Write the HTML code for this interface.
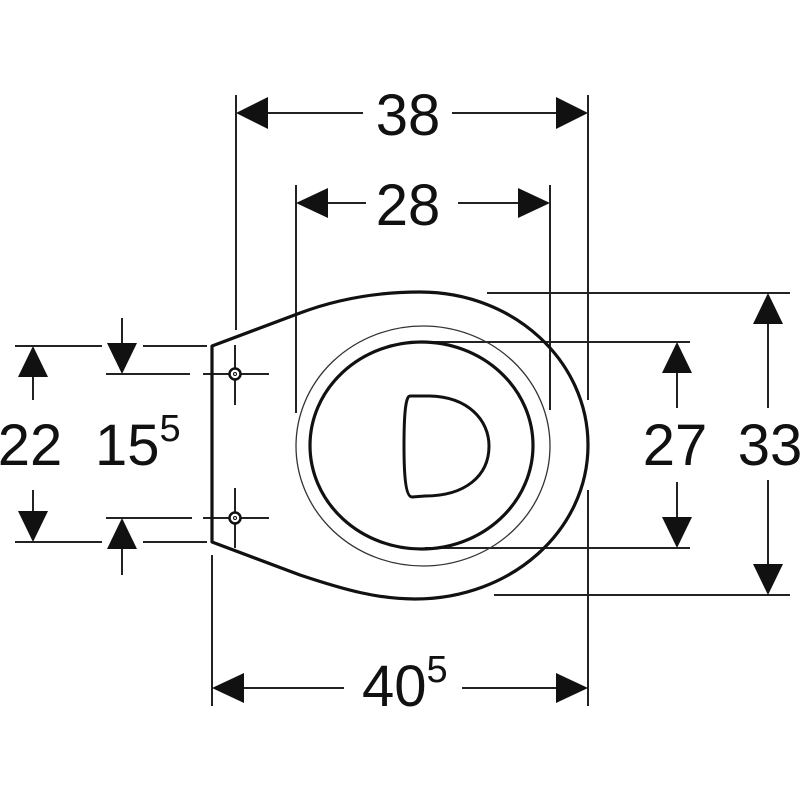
<!DOCTYPE html>
<html><head><meta charset="utf-8"><style>
html,body{margin:0;padding:0;background:#fff;}
svg{display:block;}
text{font-family:"Liberation Sans",sans-serif;fill:#111;}
</style></head><body>
<svg width="800" height="800" viewBox="0 0 800 800" xmlns="http://www.w3.org/2000/svg">
<g stroke="#222" stroke-width="2" fill="none">
<!-- extension lines -->
<line x1="236" y1="95" x2="236" y2="330"/>
<line x1="588" y1="95" x2="588" y2="400"/>
<line x1="588" y1="490" x2="588" y2="706"/>
<line x1="296" y1="185" x2="296" y2="413"/>
<line x1="550" y1="185" x2="550" y2="410"/>
<line x1="212" y1="555" x2="212" y2="706"/>
<line x1="487" y1="293" x2="790" y2="293"/>
<line x1="494" y1="595" x2="790" y2="595"/>
<line x1="425" y1="342" x2="690" y2="342"/>
<line x1="425" y1="548" x2="690" y2="548"/>
<line x1="15" y1="346" x2="102" y2="346"/>
<line x1="143" y1="346" x2="207" y2="346"/>
<line x1="15" y1="542" x2="102" y2="542"/>
<line x1="143" y1="542" x2="207" y2="542"/>
<line x1="106" y1="374" x2="190" y2="374"/>
<line x1="106" y1="518" x2="192" y2="518"/>
<!-- dimension lines -->
<line x1="260" y1="113" x2="363" y2="113"/>
<line x1="452" y1="113" x2="560" y2="113"/>
<line x1="320" y1="203" x2="366" y2="203"/>
<line x1="458" y1="203" x2="525" y2="203"/>
<line x1="240" y1="688" x2="344" y2="688"/>
<line x1="462" y1="688" x2="560" y2="688"/>
<line x1="768" y1="320" x2="768" y2="408"/>
<line x1="768" y1="480" x2="768" y2="570"/>
<line x1="677" y1="370" x2="677" y2="408"/>
<line x1="677" y1="482" x2="677" y2="520"/>
<line x1="33" y1="370" x2="33" y2="400"/>
<line x1="33" y1="490" x2="33" y2="520"/>
<line x1="122" y1="318" x2="122" y2="350"/>
<line x1="122" y1="542" x2="122" y2="575"/>
<!-- bolt crosshairs -->
<line x1="203" y1="374" x2="269" y2="374"/>
<line x1="235" y1="345" x2="235" y2="405"/>
<line x1="203" y1="518" x2="269" y2="518"/>
<line x1="235" y1="488" x2="235" y2="548"/>
</g>
<g fill="#111">
<polygon points="236,113 268,97 268,129"/>
<polygon points="588,113 556,97 556,129"/>
<polygon points="296,203 328,188 328,218"/>
<polygon points="550,203 518,188 518,218"/>
<polygon points="212,688 244,673 244,703"/>
<polygon points="588,688 556,673 556,703"/>
<polygon points="768,293 753,324 783,324"/>
<polygon points="768,595 753,564 783,564"/>
<polygon points="677,342 662,373 692,373"/>
<polygon points="677,548 662,517 692,517"/>
<polygon points="33,346 18,377 48,377"/>
<polygon points="33,542 18,511 48,511"/>
<polygon points="122,374 107,343 137,343"/>
<polygon points="122,518 107,549 137,549"/>
</g>
<!-- bowl -->
<path d="M212,346 L300,313 C340,298 380,292 420,292 C515,292 588,362 588,445 C588,530 512,599 415,599 C378,599 345,590 300,575 L212,542 Z" fill="none" stroke="#111" stroke-width="3.2" stroke-linejoin="round"/>
<ellipse cx="423" cy="446" rx="127" ry="120" fill="none" stroke="#333" stroke-width="1.3"/>
<ellipse cx="421.5" cy="445.5" rx="111.5" ry="103.5" fill="none" stroke="#111" stroke-width="3.2"/>
<path d="M410,396 L430,396 C468,397 489,420 489,446 C489,476 465,496 425,496 L412,497 C405,497 404,470 404,446 C404,420 405,396 410,396 Z" fill="none" stroke="#111" stroke-width="3"/>
<g fill="#fff" stroke="#111">
<circle cx="235" cy="374" r="5.5" stroke-width="2.5"/>
<circle cx="235" cy="518" r="5.5" stroke-width="2.5"/>
<circle cx="235" cy="374" r="1.5" stroke-width="1"/>
<circle cx="235" cy="518" r="1.5" stroke-width="1"/>
</g>
<!-- labels -->
<text x="408" y="135" font-size="58" text-anchor="middle">38</text>
<text x="408" y="225" font-size="58" text-anchor="middle">28</text>
<text x="362" y="706" font-size="58">40<tspan font-size="38" dy="-24">5</tspan></text>
<text x="675" y="465" font-size="58" text-anchor="middle">27</text>
<text x="770" y="465" font-size="58" text-anchor="middle">33</text>
<text x="30" y="465" font-size="58" text-anchor="middle">22</text>
<text x="95" y="465" font-size="58">15<tspan font-size="38" dy="-24">5</tspan></text>
</svg>
</body></html>
